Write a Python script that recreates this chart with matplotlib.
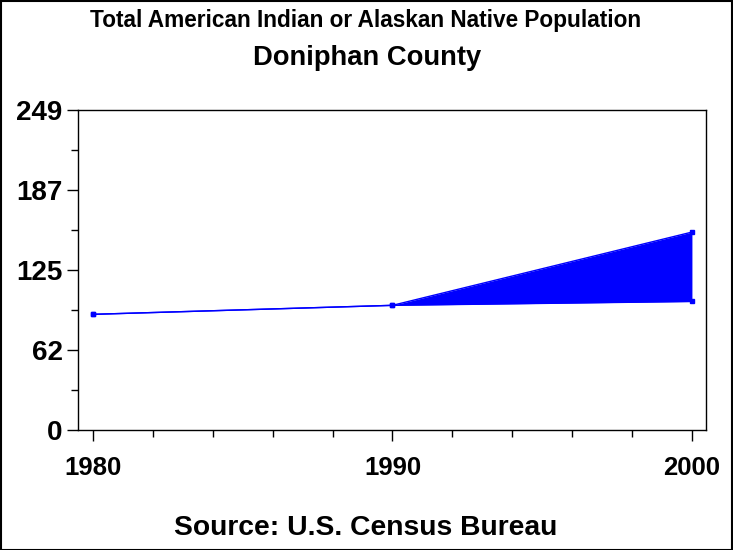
import matplotlib
matplotlib.use("Agg")
import matplotlib.pyplot as plt
from matplotlib.patches import Rectangle

years = [1980, 1990, 2000]
upper = [90, 97, 154]
lower = [90, 97, 100]
ytick_vals = [0, 62.25, 124.5, 186.75, 249]
ytick_labels = ["0", "62", "125", "187", "249"]
xtick_vals = [1980, 1990, 2000]
xtick_labels = ["1980", "1990", "2000"]

title = "Total American Indian or Alaskan Native Population"
subtitle = "Doniphan County"
footnote = "Source: U.S. Census Bureau"

plt.rcParams['font.family'] = ['Liberation Sans', 'DejaVu Sans']

fig = plt.figure(figsize=(7.33, 5.5), dpi=100)
ax = fig.add_axes([78/733, 120/550, (706-78)/733, 320/550])

blue = (0, 0, 1)
ax.fill_between(years, lower, upper, color=blue, linewidth=0)
ax.plot(years, upper, color=blue, lw=1, marker='s', ms=3)
ax.plot(years, lower, color=blue, lw=1, marker='s', ms=3)

ax.set_xlim(1979.5, 2000.47)
ax.set_ylim(0, 249)
ax.set_yticks(ytick_vals)
ax.set_yticklabels(ytick_labels)
ax.set_yticks([31.125, 93.375, 155.625, 217.875], minor=True)
ax.set_xticks(xtick_vals)
ax.set_xticklabels(xtick_labels)
ax.set_xticks([y for y in range(1982, 2000, 2) if y != 1990], minor=True)

ax.tick_params(axis='both', which='major', direction='out', length=8, width=1, color='black')
ax.tick_params(axis='both', which='minor', direction='out', length=5, width=1, color='black')
ax.tick_params(axis='y', which='major', labelsize=20, pad=3)
ax.tick_params(axis='x', which='major', labelsize=18.5, pad=11)
for lab in ax.get_xticklabels() + ax.get_yticklabels():
    lab.set_fontweight('bold')
for s in ax.spines.values():
    s.set_linewidth(1)
    s.set_color('black')

fig.text(366/733, 1 - 21/550, title, ha='center', va='center', fontsize=16.3, fontweight='bold')
fig.text(367/733, 1 - 58/550, subtitle, ha='center', va='center', fontsize=19.7, fontweight='bold')
fig.text(366/733, 1 - 528/550, footnote, ha='center', va='center', fontsize=20.3, fontweight='bold')

fig.patches.append(Rectangle((0.5/733, 0.5/550), 1 - 1.5/733, 1 - 1.5/550, transform=fig.transFigure,
                             fill=False, edgecolor='black', linewidth=1.5))

fig.savefig("out.png", dpi=100)
